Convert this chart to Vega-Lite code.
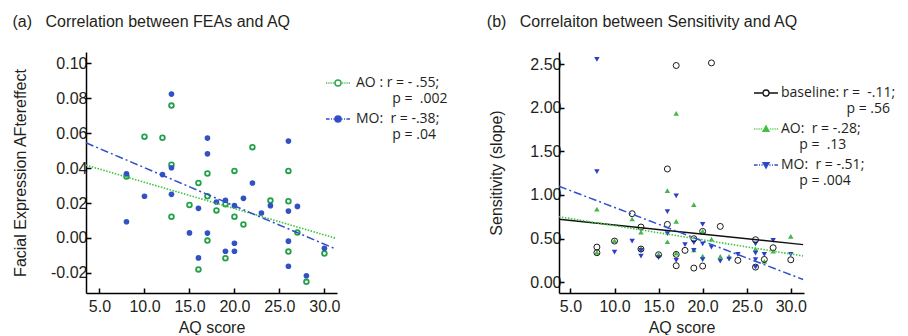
{
  "$schema": "https://vega.github.io/schema/vega-lite/v6.json",
  "background": "white",
  "padding": {"left": 12, "top": 14, "right": 0, "bottom": 0},
  "bounds": "flush",
  "spacing": 222,
  "config": {
    "view": {"stroke": null},
    "axis": {"domainColor": "#000", "domainWidth": 1.5, "tickColor": "#000", "tickWidth": 1.5, "tickSize": -5, "grid": false, "labelFont": "Liberation Sans", "labelFontSize": 16, "labelColor": "#231f20", "titleFont": "Liberation Sans", "titleFontSize": 16, "titleFontWeight": "normal", "titleColor": "#231f20", "labelOverlap": false, "labelFlush": false},
    "title": {"font": "Liberation Sans", "fontSize": 16, "fontWeight": "normal", "color": "#231f20"}
  },
  "datasets": {
    "ptsA": [
      {"aq": 13, "v": 0.0758, "g": "AO"}, {"aq": 10, "v": 0.058, "g": "AO"}, {"aq": 12, "v": 0.0574, "g": "AO"}, {"aq": 22, "v": 0.052, "g": "AO"},
      {"aq": 13, "v": 0.0419, "g": "AO"}, {"aq": 20, "v": 0.0384, "g": "AO"}, {"aq": 26, "v": 0.0384, "g": "AO"}, {"aq": 17, "v": 0.0369, "g": "AO"},
      {"aq": 8, "v": 0.0352, "g": "AO"}, {"aq": 16, "v": 0.0315, "g": "AO"}, {"aq": 17, "v": 0.0239, "g": "AO"}, {"aq": 24, "v": 0.0214, "g": "AO"},
      {"aq": 26, "v": 0.021, "g": "AO"}, {"aq": 19, "v": 0.0193, "g": "AO"}, {"aq": 15, "v": 0.0189, "g": "AO"}, {"aq": 18, "v": 0.0158, "g": "AO"},
      {"aq": 20, "v": 0.0122, "g": "AO"}, {"aq": 13, "v": 0.0122, "g": "AO"}, {"aq": 21, "v": 0.0077, "g": "AO"}, {"aq": 27, "v": 0.0031, "g": "AO"},
      {"aq": 17, "v": -0.0015, "g": "AO"}, {"aq": 26, "v": -0.0078, "g": "AO"}, {"aq": 30, "v": -0.0089, "g": "AO"}, {"aq": 19, "v": -0.0116, "g": "AO"},
      {"aq": 16, "v": -0.018, "g": "AO"}, {"aq": 28, "v": -0.0251, "g": "AO"},
      {"aq": 13, "v": 0.0824, "g": "MO"}, {"aq": 17, "v": 0.0572, "g": "MO"}, {"aq": 17, "v": 0.0482, "g": "MO"}, {"aq": 26, "v": 0.0555, "g": "MO"},
      {"aq": 13, "v": 0.0402, "g": "MO"}, {"aq": 8, "v": 0.0367, "g": "MO"}, {"aq": 12, "v": 0.0363, "g": "MO"}, {"aq": 22, "v": 0.0315, "g": "MO"},
      {"aq": 10, "v": 0.0239, "g": "MO"}, {"aq": 13, "v": 0.025, "g": "MO"}, {"aq": 21, "v": 0.0227, "g": "MO"}, {"aq": 18, "v": 0.0206, "g": "MO"},
      {"aq": 19, "v": 0.0216, "g": "MO"}, {"aq": 20, "v": 0.0185, "g": "MO"}, {"aq": 24, "v": 0.0185, "g": "MO"}, {"aq": 27, "v": 0.0181, "g": "MO"},
      {"aq": 26, "v": 0.0154, "g": "MO"}, {"aq": 16, "v": 0.017, "g": "MO"}, {"aq": 23, "v": 0.0143, "g": "MO"}, {"aq": 8, "v": 0.0093, "g": "MO"},
      {"aq": 15, "v": 0.0029, "g": "MO"}, {"aq": 17, "v": 0.0028, "g": "MO"}, {"aq": 26, "v": -0.0018, "g": "MO"}, {"aq": 20, "v": -0.003, "g": "MO"},
      {"aq": 19, "v": -0.0076, "g": "MO"}, {"aq": 20, "v": -0.0076, "g": "MO"}, {"aq": 16, "v": -0.0114, "g": "MO"}, {"aq": 26, "v": -0.0162, "g": "MO"},
      {"aq": 28, "v": -0.0216, "g": "MO"}, {"aq": 30, "v": -0.0059, "g": "MO"}
    ],
    "fitA": [
      {"aq": 3.5, "v": 0.0417, "g": "AO"}, {"aq": 31.3, "v": -0.0002, "g": "AO"},
      {"aq": 3.5, "v": 0.0545, "g": "MO"}, {"aq": 31.3, "v": -0.0064, "g": "MO"}
    ],
    "ptsB": [
      {"aq": 17, "v": 2.485, "g": "baseline"}, {"aq": 21, "v": 2.515, "g": "baseline"}, {"aq": 16, "v": 1.298, "g": "baseline"}, {"aq": 12, "v": 0.785, "g": "baseline"},
      {"aq": 13, "v": 0.632, "g": "baseline"}, {"aq": 16, "v": 0.662, "g": "baseline"}, {"aq": 22, "v": 0.639, "g": "baseline"}, {"aq": 20, "v": 0.582, "g": "baseline"},
      {"aq": 19, "v": 0.498, "g": "baseline"}, {"aq": 26, "v": 0.486, "g": "baseline"}, {"aq": 8, "v": 0.402, "g": "baseline"}, {"aq": 8, "v": 0.337, "g": "baseline"},
      {"aq": 10, "v": 0.471, "g": "baseline"}, {"aq": 13, "v": 0.379, "g": "baseline"}, {"aq": 15, "v": 0.314, "g": "baseline"}, {"aq": 17, "v": 0.318, "g": "baseline"},
      {"aq": 18, "v": 0.364, "g": "baseline"}, {"aq": 17, "v": 0.188, "g": "baseline"}, {"aq": 19, "v": 0.161, "g": "baseline"}, {"aq": 20, "v": 0.184, "g": "baseline"},
      {"aq": 24, "v": 0.249, "g": "baseline"}, {"aq": 27, "v": 0.26, "g": "baseline"}, {"aq": 28, "v": 0.394, "g": "baseline"}, {"aq": 30, "v": 0.256, "g": "baseline"},
      {"aq": 26, "v": 0.172, "g": "baseline"},
      {"aq": 17, "v": 1.937, "g": "AO"}, {"aq": 16, "v": 1.049, "g": "AO"}, {"aq": 19, "v": 0.888, "g": "AO"}, {"aq": 8, "v": 0.838, "g": "AO"},
      {"aq": 12, "v": 0.724, "g": "AO"}, {"aq": 17, "v": 0.697, "g": "AO"}, {"aq": 13, "v": 0.574, "g": "AO"}, {"aq": 21, "v": 0.494, "g": "AO"},
      {"aq": 16, "v": 0.463, "g": "AO"}, {"aq": 10, "v": 0.475, "g": "AO"}, {"aq": 30, "v": 0.524, "g": "AO"}, {"aq": 26, "v": 0.379, "g": "AO"},
      {"aq": 28, "v": 0.356, "g": "AO"}, {"aq": 8, "v": 0.341, "g": "AO"}, {"aq": 13, "v": 0.387, "g": "AO"}, {"aq": 15, "v": 0.318, "g": "AO"},
      {"aq": 17, "v": 0.333, "g": "AO"}, {"aq": 19, "v": 0.371, "g": "AO"}, {"aq": 20, "v": 0.299, "g": "AO"}, {"aq": 22, "v": 0.295, "g": "AO"},
      {"aq": 23, "v": 0.295, "g": "AO"}, {"aq": 27, "v": 0.237, "g": "AO"}, {"aq": 20, "v": 0.586, "g": "AO"},
      {"aq": 8, "v": 2.554, "g": "MO"}, {"aq": 8, "v": 1.267, "g": "MO"}, {"aq": 17, "v": 0.988, "g": "MO"}, {"aq": 16, "v": 0.808, "g": "MO"},
      {"aq": 20, "v": 0.662, "g": "MO"}, {"aq": 12, "v": 0.471, "g": "MO"}, {"aq": 16, "v": 0.555, "g": "MO"}, {"aq": 10, "v": 0.345, "g": "MO"},
      {"aq": 13, "v": 0.364, "g": "MO"}, {"aq": 13, "v": 0.299, "g": "MO"}, {"aq": 15, "v": 0.28, "g": "MO"}, {"aq": 18, "v": 0.429, "g": "MO"},
      {"aq": 19, "v": 0.452, "g": "MO"}, {"aq": 20, "v": 0.44, "g": "MO"}, {"aq": 21, "v": 0.402, "g": "MO"}, {"aq": 17, "v": 0.249, "g": "MO"},
      {"aq": 19, "v": 0.364, "g": "MO"}, {"aq": 20, "v": 0.257, "g": "MO"}, {"aq": 22, "v": 0.241, "g": "MO"}, {"aq": 23, "v": 0.264, "g": "MO"},
      {"aq": 24, "v": 0.318, "g": "MO"}, {"aq": 26, "v": 0.44, "g": "MO"}, {"aq": 26, "v": 0.333, "g": "MO"}, {"aq": 26, "v": 0.257, "g": "MO"},
      {"aq": 26, "v": 0.172, "g": "MO"}, {"aq": 27, "v": 0.318, "g": "MO"}, {"aq": 28, "v": 0.479, "g": "MO"}, {"aq": 30, "v": 0.318, "g": "MO"}
    ],
    "fitB": [
      {"aq": 3.7, "v": 0.72, "g": "baseline"}, {"aq": 31.4, "v": 0.43, "g": "baseline"},
      {"aq": 3.7, "v": 0.75, "g": "AO"}, {"aq": 31.4, "v": 0.3, "g": "AO"},
      {"aq": 3.7, "v": 1.1, "g": "MO"}, {"aq": 31.4, "v": 0.03, "g": "MO"}
    ]
  },
  "resolve": {
    "scale": {"x": "independent", "y": "independent", "shape": "independent", "stroke": "independent", "fill": "independent"},
    "legend": {"shape": "independent", "stroke": "independent", "fill": "independent"}
  },
  "hconcat": [
    {
      "width": 251,
      "height": 241,
      "title": {"text": "(a)\u00a0\u00a0\u00a0Correlation between FEAs and AQ", "anchor": "start", "frame": "bounds", "offset": 9, "dx": 0, "baseline": "alphabetic"},
      "encoding": {
        "x": {"field": "aq", "type": "quantitative", "scale": {"domain": [3.5, 31.4], "nice": false, "zero": false}, "axis": {"title": "AQ score", "values": [5, 10, 15, 20, 25, 30], "format": ".1f", "labelPadding": 10, "titlePadding": 5}},
        "y": {"field": "v", "type": "quantitative", "scale": {"domain": [-0.0315, 0.1065], "nice": false, "zero": false}, "axis": {"title": "Facial Expression AFtereffect", "values": [-0.02, 0, 0.02, 0.04, 0.06, 0.08, 0.1], "labelExpr": "datum.value < 0 ? '-' + format(-datum.value, '.2f') : format(datum.value, '.2f')", "labelPadding": 4, "titlePadding": 22}}
      },
      "layer": [
        {"data": {"name": "ptsA"}, "transform": [{"filter": "datum.g === 'AO'"}], "mark": {"type": "point", "shape": "circle", "filled": false, "fill": "white", "stroke": "#23a04a", "strokeWidth": 1.8, "size": 22, "opacity": 1}, "encoding": {}},
        {"data": {"name": "ptsA"}, "transform": [{"filter": "datum.g === 'MO'"}], "mark": {"type": "point", "shape": "circle", "filled": true, "fill": "#3152c2", "strokeWidth": 0, "size": 32, "opacity": 1}, "encoding": {}},
        {"data": {"name": "fitA"}, "transform": [{"filter": "datum.g === 'AO'"}], "mark": {"type": "line", "color": "#3cc43c", "strokeWidth": 1.6, "strokeDash": [1.5, 1.5]}, "encoding": {}},
        {"data": {"name": "fitA"}, "transform": [{"filter": "datum.g === 'MO'"}], "mark": {"type": "line", "color": "#2f4fc8", "strokeWidth": 1.5, "strokeDash": [8, 3, 2, 3]}, "encoding": {}},
        {
          "data": {"name": "fitA"},
          "mark": {"type": "point", "opacity": 0},
          "encoding": {
            "shape": {"field": "g", "type": "nominal", "scale": {"domain": ["AO", "MO"], "range": ["M-1,0h0.07M-0.85,0h0.07M-0.7,0h0.07M-0.55,0h0.07M-0.4,0h0.07M0.33,0h0.07M0.48,0h0.07M0.63,0h0.07M0.78,0h0.07M0.93,0h0.07M0.25,0A0.25,0.25 0 1,1 -0.25,0A0.25,0.25 0 1,1 0.25,0Z", "M-1,0H-0.7M-0.58,0H-0.5M-0.38,0H-0.28M0.28,0H0.38M0.5,0H0.58M0.7,0H1M0.25,0A0.25,0.25 0 1,1 -0.25,0A0.25,0.25 0 1,1 0.25,0Z"]},
              "legend": {"title": null, "orient": "none", "legendX": 239, "legendY": 18, "padding": 0, "symbolSize": 576, "symbolStrokeWidth": 1.5, "symbolOpacity": 1, "labelFont": "Open Sans", "labelFontSize": 14, "labelColor": "#231f20", "labelOffset": 5, "labelLimit": 400, "rowPadding": 0,
                "labelExpr": "datum.value === 'AO' ? ['AO : r = - .55;', '\u200b\u00a0\u00a0\u00a0\u00a0\u00a0\u00a0\u00a0\u00a0\u00a0\u00a0p =\u00a0 .002'] : ['MO:\u00a0 r = -.38;', '\u200b\u00a0\u00a0\u00a0\u00a0\u00a0\u00a0\u00a0\u00a0\u00a0\u00a0p = .04']",
                "encode": {"labels": {"update": {"lineHeight": {"value": 19}, "dy": {"value": 9.5}}}}}},
            "stroke": {"field": "g", "type": "nominal", "scale": {"domain": ["AO", "MO"], "range": ["#2ea84a", "#2f4fc8"]}},
            "fill": {"field": "g", "type": "nominal", "scale": {"domain": ["AO", "MO"], "range": ["white", "#2f4fc8"]}}
          }
        }
      ]
    },
    {
      "width": 245,
      "height": 241,
      "title": {"text": "(b)\u00a0\u00a0\u00a0Correlaiton between Sensitivity and AQ", "anchor": "start", "frame": "bounds", "offset": 9, "dx": -2, "baseline": "alphabetic"},
      "encoding": {
        "x": {"field": "aq", "type": "quantitative", "scale": {"domain": [3.7, 31.5], "nice": false, "zero": false}, "axis": {"title": "AQ score", "values": [5, 10, 15, 20, 25, 30], "format": ".1f", "labelPadding": 10, "titlePadding": 5}},
        "y": {"field": "v", "type": "quantitative", "scale": {"domain": [-0.125, 2.64], "nice": false, "zero": false}, "axis": {"title": "Sensitivity (slope)", "values": [0, 0.5, 1, 1.5, 2, 2.5], "format": ".2f", "labelPadding": 3, "titlePadding": 25}}
      },
      "layer": [
        {"data": {"name": "ptsB"}, "transform": [{"filter": "datum.g === 'AO'"}], "mark": {"type": "point", "shape": "triangle-up", "filled": true, "fill": "#45b649", "strokeWidth": 0, "size": 30, "opacity": 1}, "encoding": {}},
        {"data": {"name": "ptsB"}, "transform": [{"filter": "datum.g === 'MO'"}], "mark": {"type": "point", "shape": "triangle-down", "filled": true, "fill": "#2b40c8", "strokeWidth": 0, "size": 30, "opacity": 1}, "encoding": {}},
        {"data": {"name": "ptsB"}, "transform": [{"filter": "datum.g === 'baseline'"}], "mark": {"type": "point", "shape": "circle", "filled": false, "fill": "transparent", "stroke": "#1a1a1a", "strokeWidth": 1, "size": 36, "opacity": 1}, "encoding": {}},
        {"data": {"name": "fitB"}, "transform": [{"filter": "datum.g === 'baseline'"}], "mark": {"type": "line", "color": "#111111", "strokeWidth": 1.5}, "encoding": {}},
        {"data": {"name": "fitB"}, "transform": [{"filter": "datum.g === 'AO'"}], "mark": {"type": "line", "color": "#3ec63e", "strokeWidth": 1.6, "strokeDash": [1.5, 1.5]}, "encoding": {}},
        {"data": {"name": "fitB"}, "transform": [{"filter": "datum.g === 'MO'"}], "mark": {"type": "line", "color": "#2f4fd0", "strokeWidth": 1.5, "strokeDash": [8, 3, 2, 3]}, "encoding": {}},
        {
          "data": {"name": "fitB"},
          "mark": {"type": "point", "opacity": 0},
          "encoding": {
            "shape": {"field": "g", "type": "nominal", "scale": {"domain": ["baseline", "AO", "MO"], "range": ["M-1,0H-0.27M0.27,0H1M0.25,0A0.25,0.25 0 1,1 -0.25,0A0.25,0.25 0 1,1 0.25,0Z", "M-1,0h0.07M-0.85,0h0.07M-0.7,0h0.07M-0.55,0h0.07M-0.4,0h0.07M0.33,0h0.07M0.48,0h0.07M0.63,0h0.07M0.78,0h0.07M0.93,0h0.07M0,-0.26L0.26,0.2L-0.26,0.2Z", "M-1,0H-0.7M-0.58,0H-0.5M-0.38,0H-0.28M0.28,0H0.38M0.5,0H0.58M0.7,0H1M0,0.26L0.26,-0.2L-0.26,-0.2Z"]},
              "legend": {"title": null, "orient": "none", "legendX": 194, "legendY": 28, "padding": 0, "symbolSize": 576, "symbolStrokeWidth": 1.3, "symbolOpacity": 1, "labelFont": "Open Sans", "labelFontSize": 14, "labelColor": "#231f20", "labelOffset": 2, "labelLimit": 400, "rowPadding": 0,
                "labelExpr": "datum.value === 'baseline' ? ['baseline: r =\u00a0 -.11;', '\u200b\u00a0\u00a0\u00a0\u00a0\u00a0\u00a0\u00a0\u00a0\u00a0\u00a0\u00a0\u00a0\u00a0\u00a0\u00a0\u00a0\u00a0\u00a0p = .56'] : datum.value === 'AO' ? ['AO:\u00a0 r = -.28;', '\u200b\u00a0\u00a0\u00a0\u00a0\u00a0p =\u00a0 .13'] : ['MO:\u00a0 r = -.51;', '\u200b\u00a0\u00a0\u00a0\u00a0\u00a0p = .004']",
                "encode": {"labels": {"update": {"lineHeight": {"value": 18.5}, "dy": {"value": 9.25}}}}}},
            "stroke": {"field": "g", "type": "nominal", "scale": {"domain": ["baseline", "AO", "MO"], "range": ["#111111", "#3ec63e", "#2f4fd0"]}},
            "fill": {"field": "g", "type": "nominal", "scale": {"domain": ["baseline", "AO", "MO"], "range": ["white", "#45b649", "#2b40c8"]}}
          }
        }
      ]
    }
  ]
}
